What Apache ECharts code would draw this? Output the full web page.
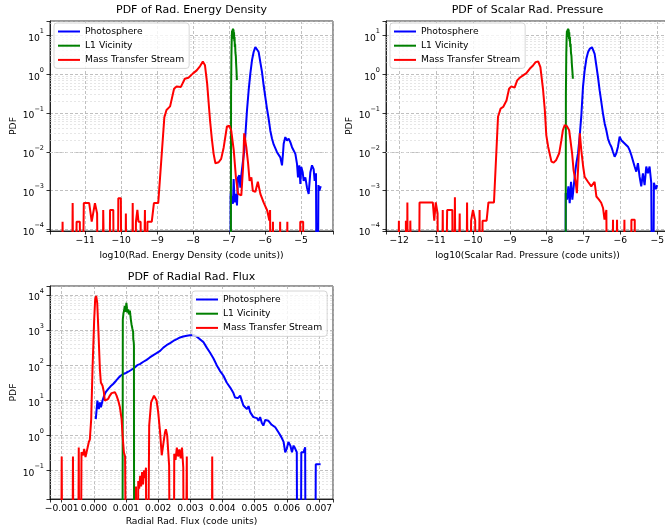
<!DOCTYPE html>
<html>
<head>
<meta charset="utf-8">
<script src="https://cdn.jsdelivr.net/npm/echarts@6/dist/echarts.min.js"></script>
<style>
  html, body { margin: 0; padding: 0; background: #fff; }
  #chart { width: 665px; height: 531px; }
</style>
</head>
<body>
<div id="chart"></div>
<script>
// series names / colours (matplotlib b, g, r)
const names = ['Photosphere', 'L1 Vicinity', 'Mass Transfer Stream'];
const colors = ['#0000ff', '#008000', '#ff0000'];

// ---- PDF of Rad. Energy Density: [log10(E), pdf], 0 = empty bin ----
const energyPhot = [
  [-6.966, 0], [-6.957, 8.3e-4], [-6.919, 8.3e-4], [-6.891, 4.6e-4], [-6.873, 2.0e-3], [-6.845, 5.0e-4],
  [-6.808, 8.3e-4], [-6.780, 4.2e-4], [-6.752, 2.2e-3], [-6.715, 2.5e-3], [-6.687, 1.2e-3], [-6.660, 2.5e-3],
  [-6.623, 4.9e-3], [-6.576, 0.011], [-6.548, 0.026], [-6.502, 0.117], [-6.456, 0.38], [-6.409, 1.03],
  [-6.363, 2.27], [-6.317, 3.7], [-6.270, 5.0], [-6.224, 5.0], [-6.177, 3.7], [-6.131, 2.04], [-6.085, 1.14],
  [-6.038, 0.51], [-5.992, 0.257], [-5.946, 0.129], [-5.899, 0.071], [-5.853, 0.035], [-5.807, 0.022],
  [-5.760, 0.0155], [-5.714, 0.0145], [-5.667, 0.0098], [-5.621, 0.011], [-5.575, 0.0072], [-5.528, 0.0045],
  [-5.501, 0.0089], [-5.482, 0.0162], [-5.436, 0.024], [-5.389, 0.0195], [-5.343, 0.022], [-5.297, 0.0178],
  [-5.250, 0.0132], [-5.204, 0.0145], [-5.157, 0.0089], [-5.111, 0.0049], [-5.083, 0.0022], [-5.046, 0.0045],
  [-5.018, 0.0015], [-4.991, 0.0041], [-4.953, 0.003], [-4.926, 0.0018], [-4.879, 0.0022], [-4.833, 0.0012],
  [-4.787, 8.3e-4], [-4.740, 0.003], [-4.694, 0.0045], [-4.648, 0.0036], [-4.620, 0.0018], [-4.583, 0.0028],
  [-4.550, 0], [-4.515, 1.4e-3], [-4.49, 1.0e-3], [-4.45, 1.3e-3]
];
const energyL1 = [
  [-6.955, 0], [-6.945, 0.3], [-6.935, 3], [-6.925, 9], [-6.918, 13], [-6.911, 9], [-6.904, 14], [-6.897, 10],
  [-6.890, 15], [-6.883, 11], [-6.876, 14], [-6.869, 8], [-6.862, 12], [-6.855, 7], [-6.848, 9], [-6.840, 5],
  [-6.832, 6], [-6.823, 3.5], [-6.813, 3], [-6.803, 1.8], [-6.793, 1.2], [-6.783, 0.7]
];
const energyStream = [
  [-11.67, 0], [-11.63, 1.6e-4], [-11.59, 0],
  [-11.39, 0], [-11.35, 4.8e-4], [-11.31, 0],
  [-11.27, 0], [-11.24, 1.6e-4], [-11.15, 1.6e-4], [-11.11, 0],
  [-11.07, 0], [-11.04, 4.8e-4], [-10.89, 4.8e-4], [-10.82, 1.6e-4], [-10.73, 4.8e-4], [-10.67, 2.6e-4], [-10.62, 0],
  [-10.54, 0], [-10.50, 3.2e-4], [-10.45, 3.2e-4], [-10.41, 0],
  [-10.35, 0], [-10.31, 3.2e-4], [-10.22, 3.2e-4], [-10.18, 0],
  [-10.11, 0], [-10.08, 6.4e-4], [-10.01, 6.4e-4], [-9.97, 0],
  [-9.91, 0], [-9.87, 2.6e-4], [-9.83, 0],
  [-9.72, 0], [-9.68, 4.8e-4], [-9.64, 0],
  [-9.62, 0], [-9.59, 1.6e-4], [-9.55, 3.2e-4], [-9.52, 1.6e-4], [-9.46, 1.6e-4], [-9.42, 0],
  [-9.38, 0], [-9.34, 3.2e-4], [-9.30, 0],
  [-9.29, 0], [-9.27, 1.6e-4], [-9.15, 1.6e-4], [-9.09, 4.8e-4], [-8.97, 4.8e-4],
  [-8.80, 0.078], [-8.74, 0.12], [-8.64, 0.148], [-8.53, 0.42], [-8.46, 0.48], [-8.34, 0.47], [-8.23, 0.76],
  [-8.13, 0.81], [-8.01, 1.03], [-7.90, 1.25], [-7.81, 1.59], [-7.73, 2.1], [-7.67, 1.69], [-7.61, 0.57],
  [-7.53, 0.065], [-7.48, 0.022], [-7.43, 0.0089], [-7.38, 0.0051], [-7.29, 0.0054], [-7.22, 0.0066],
  [-7.15, 0.013], [-7.06, 0.045], [-6.99, 0.047], [-6.94, 0.035], [-6.87, 0.011], [-6.81, 0.0022],
  [-6.75, 8.3e-4], [-6.66, 7.6e-4], [-6.61, 0.0041], [-6.58, 0.030], [-6.52, 0.013], [-6.47, 0.0049],
  [-6.43, 0.0018], [-6.38, 0.0022], [-6.34, 0.0010], [-6.27, 9.3e-4], [-6.20, 0.0017], [-6.13, 8.3e-4],
  [-6.04, 5e-4], [-5.94, 3.1e-4], [-5.88, 1.7e-4], [-5.86, 3.2e-4], [-5.83, 0],
  [-5.81, 0], [-5.78, 1.6e-4], [-5.75, 0],
  [-5.61, 0], [-5.58, 1.6e-4], [-5.55, 0],
  [-5.41, 0], [-5.38, 1.6e-4], [-5.35, 0],
  [-5.05, 0], [-5.02, 1.6e-4], [-4.94, 1.6e-4], [-4.91, 0]
];

// ---- PDF of Scalar Rad. Pressure: [log10(P), pdf] ----
const pressPhot = [
  [-7.49, 0], [-7.483, 8.7e-4], [-7.447, 5.9e-4], [-7.411, 1.3e-3], [-7.375, 4.8e-4], [-7.339, 1.7e-3],
  [-7.303, 5.9e-4], [-7.266, 1.3e-3], [-7.230, 2.8e-3], [-7.194, 5.1e-3], [-7.149, 9.1e-3], [-7.104, 0.025],
  [-7.059, 0.087], [-7.014, 0.47], [-6.969, 1.24], [-6.923, 2.48], [-6.878, 3.66], [-6.833, 4.47],
  [-6.770, 4.92], [-6.698, 3.33], [-6.652, 1.67], [-6.607, 0.84], [-6.562, 0.38], [-6.517, 0.193],
  [-6.472, 0.097], [-6.426, 0.054], [-6.381, 0.036], [-6.336, 0.022], [-6.291, 0.0165], [-6.246, 0.0136],
  [-6.201, 0.0101], [-6.155, 0.0075], [-6.11, 0.0092], [-6.065, 0.0136], [-6.020, 0.0245], [-5.975, 0.020],
  [-5.929, 0.020], [-5.884, 0.0165], [-5.839, 0.0165], [-5.794, 0.0136], [-5.749, 0.0111], [-5.703, 0.0083],
  [-5.658, 0.0075], [-5.613, 0.0042], [-5.568, 0.0031], [-5.523, 0.0051], [-5.478, 0.0023], [-5.433, 0.0013],
  [-5.388, 0.0028], [-5.342, 0.0014], [-5.297, 0.0042], [-5.252, 0.0028], [-5.207, 0.0042], [-5.162, 0.0016],
  [-5.12, 0], [-5.09, 1.6e-3], [-5.04, 1.1e-3], [-5.0, 1.4e-3]
];
const pressL1 = [
  [-7.49, 0], [-7.478, 0.3], [-7.468, 3], [-7.458, 9], [-7.45, 13], [-7.442, 9], [-7.434, 14], [-7.426, 10],
  [-7.418, 15], [-7.41, 11], [-7.402, 14], [-7.394, 8], [-7.386, 12], [-7.378, 7], [-7.37, 9], [-7.36, 5],
  [-7.35, 6], [-7.34, 3.5], [-7.328, 3], [-7.316, 1.8], [-7.302, 1.2], [-7.288, 0.76]
];
const pressStream = [
  [-12.05, 0], [-12.01, 1.7e-4], [-11.97, 0],
  [-11.84, 0], [-11.82, 1.7e-4], [-11.80, 0], [-11.78, 5e-4], [-11.75, 0],
  [-11.72, 0], [-11.70, 1.7e-4], [-11.66, 1.7e-4], [-11.63, 0],
  [-11.48, 0], [-11.45, 5e-4], [-11.09, 5e-4], [-11.05, 1.7e-4], [-11.01, 5e-4], [-10.96, 2.6e-4], [-10.93, 0],
  [-10.86, 0], [-10.82, 3.2e-4], [-10.78, 0],
  [-10.74, 0], [-10.70, 3.2e-4], [-10.56, 3.2e-4], [-10.53, 0],
  [-10.52, 0], [-10.49, 6.8e-4], [-10.45, 0],
  [-10.40, 0], [-10.36, 2.6e-4], [-10.32, 0],
  [-10.20, 0], [-10.16, 5e-4], [-10.12, 0],
  [-10.08, 0], [-10.05, 1.7e-4], [-10.00, 3.2e-4], [-9.94, 1.7e-4], [-9.90, 0],
  [-9.86, 0], [-9.82, 3.2e-4], [-9.78, 0],
  [-9.76, 0], [-9.74, 1.7e-4], [-9.63, 1.7e-4], [-9.58, 5e-4], [-9.43, 5e-4],
  [-9.32, 0.08], [-9.25, 0.13], [-9.18, 0.143], [-9.09, 0.21], [-9.02, 0.42], [-8.96, 0.485], [-8.87, 0.45],
  [-8.80, 0.69], [-8.73, 0.81], [-8.64, 0.93], [-8.55, 1.06], [-8.46, 1.37], [-8.37, 1.67], [-8.30, 2.04],
  [-8.23, 2.12], [-8.17, 1.52], [-8.10, 0.42], [-8.05, 0.118], [-8.01, 0.027], [-7.96, 0.0136], [-7.87, 0.0056],
  [-7.81, 0.0053], [-7.74, 0.0062], [-7.66, 0.0092], [-7.60, 0.020], [-7.56, 0.036], [-7.51, 0.049],
  [-7.45, 0.046], [-7.39, 0.036], [-7.36, 0.022], [-7.31, 0.0092], [-7.27, 0.0034], [-7.21, 0.0016],
  [-7.18, 8.7e-4], [-7.14, 9.5e-4], [-7.10, 0.030], [-7.06, 0.011], [-7.01, 0.0042], [-6.97, 0.0023],
  [-6.92, 0.0023], [-6.88, 0.0017], [-6.83, 0.0019], [-6.79, 0.0013], [-6.74, 0.0014], [-6.70, 0.0017],
  [-6.65, 7.1e-4], [-6.58, 5.9e-4], [-6.52, 4.9e-4], [-6.47, 3.6e-4], [-6.43, 1.8e-4], [-6.38, 3.2e-4], [-6.34, 0],
  [-6.23, 0], [-6.20, 1.8e-4], [-6.17, 0],
  [-6.12, 0], [-6.09, 1.8e-4], [-6.06, 0],
  [-5.92, 0], [-5.89, 1.8e-4], [-5.86, 0],
  [-5.73, 0], [-5.70, 1.8e-4], [-5.61, 1.8e-4], [-5.58, 0]
];

// ---- PDF of Radial Rad. Flux: [flux, pdf] ----
const fluxPhot = [
  [0.00006, 2.9], [0.00011, 9.8], [0.000155, 5.6], [0.00019, 8.7], [0.00022, 6.3], [0.00027, 9.8],
  [0.00032, 13.5], [0.00037, 17], [0.00045, 21], [0.00052, 25], [0.0006, 29], [0.00069, 36], [0.00076, 43],
  [0.00083, 50], [0.00091, 56], [0.001, 60], [0.00107, 65], [0.00117, 74], [0.00128, 87], [0.00135, 100],
  [0.00143, 107], [0.00154, 125], [0.00164, 142], [0.00174, 166], [0.00185, 194], [0.00195, 220],
  [0.00206, 255], [0.00216, 317], [0.00226, 370], [0.00237, 423], [0.00247, 490], [0.00258, 550],
  [0.00268, 615], [0.00278, 655], [0.00289, 690], [0.00299, 715], [0.0031, 725], [0.0032, 650],
  [0.0033, 550], [0.00341, 447], [0.00351, 316], [0.00361, 229], [0.00372, 155], [0.00382, 100],
  [0.00392, 69], [0.00403, 50], [0.00413, 32], [0.00424, 23], [0.00434, 16], [0.00439, 12], [0.00448, 11.5],
  [0.00455, 13.5], [0.0046, 9.8], [0.00465, 7.1], [0.0047, 6.8], [0.00476, 5.6], [0.00481, 6.8],
  [0.00486, 4.6], [0.00491, 4.3], [0.00496, 3.3], [0.00502, 3.5], [0.00507, 3.1], [0.00512, 2.6],
  [0.00517, 3.3], [0.00522, 2.3], [0.00527, 1.9], [0.00533, 2.75], [0.00538, 2.95], [0.00543, 2.6],
  [0.00548, 2.3], [0.00553, 2.0], [0.00564, 1.7], [0.00574, 1.23], [0.00583, 0.89], [0.0059, 0.65],
  [0.00595, 0.33], [0.006, 0.42], [0.00605, 0.65], [0.00611, 0.51], [0.00616, 0.33], [0.00621, 0.51],
  [0.00626, 0.42], [0.00631, 0.33], [0.00634, 0], [0.00642, 0], [0.00645, 0.33], [0.00652, 0.33],
  [0.00657, 0.46], [0.0066, 0], [0.00687, 0], [0.0069, 0.15], [0.00705, 0.15]
];
const fluxL1 = [
  [0.000885, 0], [0.0009, 2000], [0.00092, 3000], [0.00094, 3600], [0.00096, 4900], [0.00098, 3300],
  [0.000997, 3900], [0.00101, 6000], [0.00103, 4200], [0.00105, 3150], [0.00107, 3900], [0.00109, 2800],
  [0.0011, 2500], [0.00112, 3560], [0.00114, 2400], [0.00115, 2000], [0.00117, 1470], [0.00119, 1600],
  [0.0012, 1070], [0.00122, 900], [0.001225, 550], [0.00124, 450], [0.001246, 355], [0.001256, 0]
];
const fluxStream = [
  [-0.00104, 0], [-0.00100, 0.25], [-0.00096, 0],
  [-0.00069, 0], [-0.00065, 0.25], [-0.00061, 0],
  [-0.00051, 0], [-0.00047, 0.45], [-0.00043, 0],
  [-0.00041, 0], [-0.000385, 0.33], [-0.000353, 0.37], [-0.000333, 0.27], [-0.000301, 0.41], [-0.00026, 0.24],
  [-0.000208, 0.27], [-0.000156, 0.65], [-0.000125, 0.76], [-0.000083, 2.9], [-0.000042, 77], [0.00001, 2000],
  [0.000041, 7600], [0.000072, 9400], [0.000104, 6000], [0.000135, 1300], [0.000187, 77], [0.000218, 32],
  [0.00027, 26], [0.000311, 17], [0.000342, 9.8], [0.000394, 8.7], [0.000446, 11], [0.000498, 13.6],
  [0.00055, 16], [0.000602, 17.6], [0.000654, 17], [0.000706, 13.6], [0.000758, 9.8], [0.00081, 6.3],
  [0.000862, 2.9], [0.000893, 1.0], [0.000934, 0.33], [0.00097, 0.25], [0.00101, 0.25], [0.00104, 0],
  [0.00128, 0], [0.00131, 0.035], [0.00134, 0], [0.00138, 0.05], [0.00141, 0.03], [0.00144, 0.07],
  [0.00147, 0.035], [0.0015, 0.09], [0.00153, 0.04], [0.00156, 0.1], [0.00159, 0.06], [0.00162, 0.12], [0.00165, 0],
  [0.00169, 0], [0.00172, 1.9], [0.00178, 8.7], [0.00187, 13.5], [0.00195, 9.8], [0.002, 4.6], [0.00206, 1.2],
  [0.00211, 0.27], [0.00216, 0.3], [0.00221, 1.2], [0.00224, 1.5], [0.00228, 1.0], [0.00234, 0.14], [0.00239, 0],
  [0.00247, 0], [0.0025, 0.3], [0.00254, 0.2], [0.00258, 0.45], [0.00262, 0.25], [0.00266, 0.4], [0.0027, 0.22],
  [0.00274, 0.45], [0.00278, 0.12], [0.00282, 0],
  [0.00286, 0], [0.00289, 0.25], [0.00292, 0],
  [0.00365, 0], [0.00368, 0.25], [0.00371, 0]
];

const FONT = 'DejaVu Sans';
const FLOOR = 1e-9; // empty bins fall off the bottom of the log axis

function minus(s) { return String(s).replace('-', '\u2212'); }
function logLabel(v) {
  const p = Math.log10(v), n = Math.round(p);
  if (Math.abs(p - n) > 1e-6) return '';
  return '{b|10}{s|' + minus(n) + '}';
}
function intLabel(v) {
  const n = Math.round(v);
  return Math.abs(v - n) < 1e-6 ? minus(n) : '';
}
function fluxLabel(v) {
  const k = Math.round(v * 1000);
  if (Math.abs(v * 1000 - k) > 1e-6) return '';
  return minus((k / 1000).toFixed(3));
}
// matplotlib-like minor grid at 2..9 x 10^n
function minorLines(lo, hi) {
  const out = [];
  for (let e = Math.floor(Math.log10(lo)); e <= Math.ceil(Math.log10(hi)); e++) {
    for (let k = 2; k <= 9; k++) {
      const v = k * Math.pow(10, e);
      if (v > lo && v < hi) out.push({ yAxis: v });
    }
  }
  return out;
}

const panels = [
  { left: 50, top: 21, width: 283, height: 210, xmin: -11.98, xmax: -4.11, step: 1, fmt: intLabel,
    ymin: 9.2e-5, ymax: 23.3, nameGap: 20, titleTop: 4.5, legendLeft: 54, legendTop: 23,
    title: 'PDF of Rad. Energy Density', xname: 'log10(Rad. Energy Density (code units))',
    data: [energyPhot, energyL1, energyStream] },
  { left: 386, top: 21, width: 283, height: 210, xmin: -12.36, xmax: -4.68, step: 1, fmt: intLabel,
    ymin: 9.2e-5, ymax: 23.3, nameGap: 20, titleTop: 4.5, legendLeft: 390, legendTop: 23,
    title: 'PDF of Scalar Rad. Pressure', xname: 'log10(Scalar Rad. Pressure (code units))',
    data: [pressPhot, pressL1, pressStream] },
  { left: 50, top: 286, width: 283, height: 213, xmin: -0.001364, xmax: 0.007436, step: 0.001, fmt: fluxLabel,
    ymin: 0.01535, ymax: 18030, nameGap: 18.5, titleTop: 271.5, legendLeft: 192, legendTop: 291,
    title: 'PDF of Radial Rad. Flux', xname: 'Radial Rad. Flux (code units)',
    data: [fluxPhot, fluxL1, fluxStream] }
];

const txt = { fontFamily: FONT, fontSize: 9.2, color: '#000' };
const option = { animation: false, backgroundColor: '#fff', title: [], grid: [], xAxis: [], yAxis: [], legend: [], series: [] };

panels.forEach((p, i) => {
  option.title.push({
    text: p.title, left: p.left + p.width / 2, top: p.titleTop, textAlign: 'center', padding: 0,
    textStyle: { fontFamily: FONT, fontSize: 11, fontWeight: 'normal', color: '#000' }
  });
  option.grid.push({
    left: p.left, top: p.top, width: p.width, height: p.height, containLabel: false, outerBoundsMode: 'none',
    show: true, borderColor: '#000', borderWidth: 0.8, backgroundColor: 'transparent'
  });
  option.xAxis.push({
    gridIndex: i, type: 'value', min: p.xmin, max: p.xmax, minInterval: p.step, maxInterval: p.step, splitNumber: 8,
    axisLine: { show: true, onZero: false, lineStyle: { color: '#000', width: 0.8 } },
    axisTick: { show: true, length: 3.5, lineStyle: { color: '#000', width: 0.8 } },
    axisLabel: Object.assign({ formatter: p.fmt, margin: 5, hideOverlap: false }, txt),
    splitLine: { show: true, lineStyle: { color: '#b0b0b0', width: 0.8, type: [3, 2] } },
    name: p.xname, nameLocation: 'middle', nameGap: p.nameGap, nameMoveOverlap: false,
    nameTextStyle: txt
  });
  option.yAxis.push({
    gridIndex: i, type: 'log', logBase: 10, min: p.ymin, max: p.ymax,
    axisLine: { show: true, onZero: false, lineStyle: { color: '#000', width: 0.8 } },
    axisTick: { show: true, length: 3.5, lineStyle: { color: '#000', width: 0.8 } },
    axisLabel: Object.assign({
      formatter: logLabel, margin: 6, hideOverlap: false,
      rich: {
        b: { fontFamily: FONT, fontSize: 9.2, color: '#000', lineHeight: 15, verticalAlign: 'bottom' },
        s: { fontFamily: FONT, fontSize: 6.5, color: '#000', lineHeight: 10, verticalAlign: 'top' }
      }
    }, txt),
    splitLine: { show: true, lineStyle: { color: '#b0b0b0', width: 0.8, type: [3, 2] } },
    name: 'PDF', nameLocation: 'middle', nameGap: 32, nameMoveOverlap: false, nameTextStyle: txt
  });
  option.legend.push({
    orient: 'vertical', left: p.legendLeft, top: p.legendTop, data: names, selectedMode: false,
    icon: 'rect', itemWidth: 22, itemHeight: 2, itemGap: 3.2, padding: [3, 5, 3, 4],
    backgroundColor: 'rgba(255,255,255,0.8)', borderColor: '#cccccc', borderWidth: 0.8, borderRadius: 3,
    textStyle: Object.assign({ lineHeight: 11 }, txt)
  });
  // minor horizontal grid lines, kept under the curves
  option.series.push({
    type: 'line', xAxisIndex: i, yAxisIndex: i, data: [], silent: true, z: 1,
    markLine: {
      silent: true, z: 1, symbol: ['none', 'none'], label: { show: false }, animation: false,
      lineStyle: { color: '#d6d6d6', width: 0.6, type: [2, 2] },
      emphasis: { disabled: true },
      data: minorLines(p.ymin, p.ymax)
    }
  });
  p.data.forEach((pts, k) => {
    option.series.push({
      type: 'line', name: names[k], xAxisIndex: i, yAxisIndex: i, z: 3,
      data: pts.map(d => [d[0], d[1] > 0 ? d[1] : FLOOR]),
      showSymbol: false, symbol: 'none', clip: true,
      lineStyle: { color: colors[k], width: 2 }, itemStyle: { color: colors[k] },
      emphasis: { disabled: true }
    });
  });
});

const chart = echarts.init(document.getElementById('chart'), null, { renderer: 'canvas' });
chart.setOption(option);
</script>
</body>
</html>
